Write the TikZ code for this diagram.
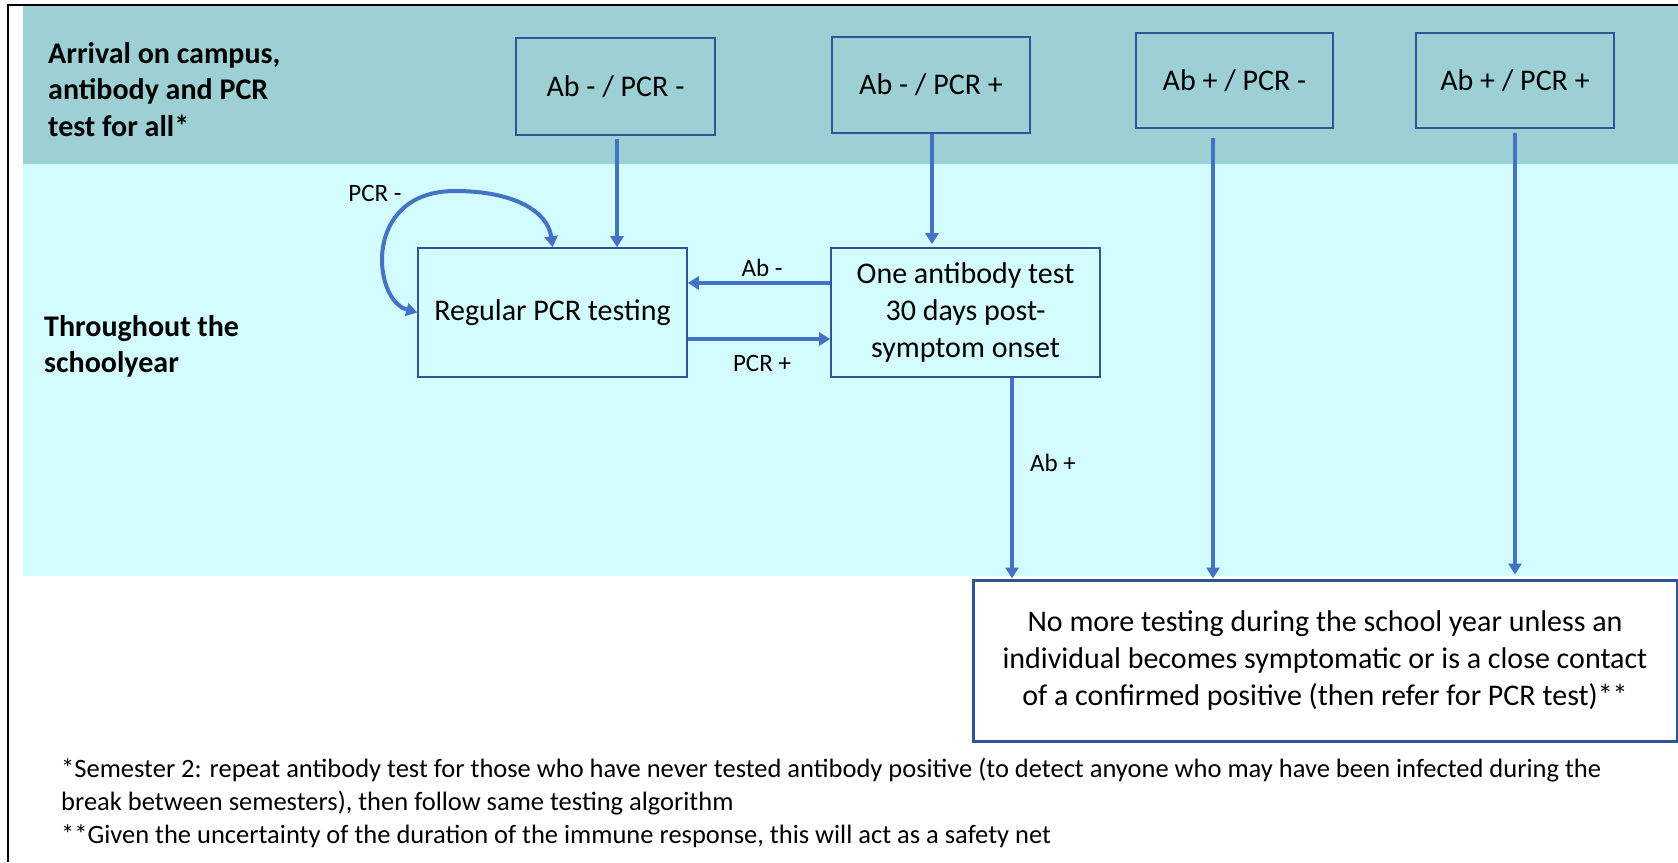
\documentclass[tikz,border=0pt]{standalone}
\usepackage{fontspec}
\setmainfont{Carlito}
\usetikzlibrary{arrows.meta}
\definecolor{bandA}{RGB}{157,208,212}
\definecolor{bandB}{RGB}{210,252,253}
\definecolor{boxline}{RGB}{47,85,151}
\definecolor{arrowc}{RGB}{68,114,196}
\tikzset{
  box/.style={draw=boxline, line width=1.6pt, inner sep=0pt, align=center,
    font=\fontsize{30}{36.6}\selectfont, text=black},
  flow/.style={draw=arrowc, line width=4pt, -{Triangle[width=13pt,length=11pt]}},
  lbl/.style={font=\fontsize{25}{30}\selectfont, inner sep=0pt, text=black},
  head/.style={font=\bfseries\fontsize{30}{36.6}\selectfont, align=left, inner sep=0pt, anchor=west, text=black},
  foot/.style={font=\fontsize{26.5}{33}\selectfont, align=left, inner sep=0pt, anchor=west, text=black}
}
\begin{document}
\begin{tikzpicture}[x=1pt,y=-1pt]
\useasboundingbox (0,0) rectangle (1678,862);
\fill[white] (0,0) rectangle (1678,862);
% bands
\fill[bandA] (22.5,5.5) rectangle (1678,164);
\fill[bandB] (22.5,164) rectangle (1678,575.5);
% outer frame (left and top)
\draw[line width=2pt] (7.5,862) -- (7.5,4.5) -- (1678,4.5);

% row headings
\node[head] (h1) at (48,89.5) {Arrival on campus,\\antibody and PCR\\test for all*};
\node[head] (h2) at (44,346.5) {Throughout the\\schoolyear};

% top boxes
\node[box, line width=2pt, minimum width=199pt, minimum height=97pt] (b1) at (615.5,86.5) {Ab - / PCR -};
\node[box, line width=2pt, minimum width=198pt, minimum height=96pt] (b2) at (931,84.5) {Ab - / PCR +};
\node[box, line width=2pt, minimum width=197pt, minimum height=95pt] (b3) at (1234.5,80.3) {Ab + / PCR -};
\node[box, line width=2pt, minimum width=198pt, minimum height=95pt] (b4) at (1515,80.3) {Ab + / PCR +};

% middle boxes
\node[box, minimum width=269pt, minimum height=129pt] (reg) at (552.5,312.5) {Regular PCR testing};
\node[box, minimum width=269pt, minimum height=129pt] (ab) at (965.5,312.5) {One antibody test\\30 days post-\\symptom onset};

% final box
\node[box, line width=3pt, minimum width=704pt, minimum height=161pt] (final) at (1325,660.5)
  {No more testing during the school year unless an\\individual becomes symptomatic or is a close contact\\of a confirmed positive (then refer for PCR test)**};

% connectors
\draw[flow] ([xshift=1.5pt,yshift=-3pt]b1.south) -- ([xshift=1.5pt]b1.south |- reg.north);
\draw[flow, shorten >=3pt] ([xshift=1pt]b2.south) -- ([xshift=1pt]b2.south |- ab.north);
\draw[flow] ([yshift=29.5pt]ab.west) -- ([yshift=29.5pt]ab.west -| reg.east);
\draw[flow] ([yshift=-26.5pt]reg.east) -- ([yshift=-26.5pt]reg.east -| ab.west);
\draw[flow] ([xshift=46.5pt]ab.south) -- ([xshift=46.5pt]ab.south |- final.north);
\draw[flow] ([xshift=-21.5pt,yshift=-9pt]b3.south) -- ([xshift=-21.5pt]b3.south |- final.north);
\draw[flow, shorten >=4pt] ([yshift=-4pt]b4.south) -- (b4.south |- final.north);
\draw[flow, {Triangle[width=13pt,length=11pt]}-{Triangle[width=13pt,length=11pt]}]
  (reg.west) .. controls (372,300) and (362,191) .. (455,191)
  .. controls (515,191) and (548,212) .. (reg.north);

% connector labels
\node[lbl] (lpcrm) at (375,193) {PCR -};
\node[lbl] (labm) at (762,268) {Ab -};
\node[lbl] (lpcrp) at (762,363) {PCR +};
\node[lbl, anchor=west] (labp) at (1030,463) {Ab +};

% footnotes
\node[foot] (fn) at (61,803) {*Semester 2: repeat antibody test for those who have never tested antibody positive (to detect anyone who may have been infected during the\\break between semesters), then follow same testing algorithm\\**Given the uncertainty of the duration of the immune response, this will act as a safety net};
\end{tikzpicture}
\end{document}
